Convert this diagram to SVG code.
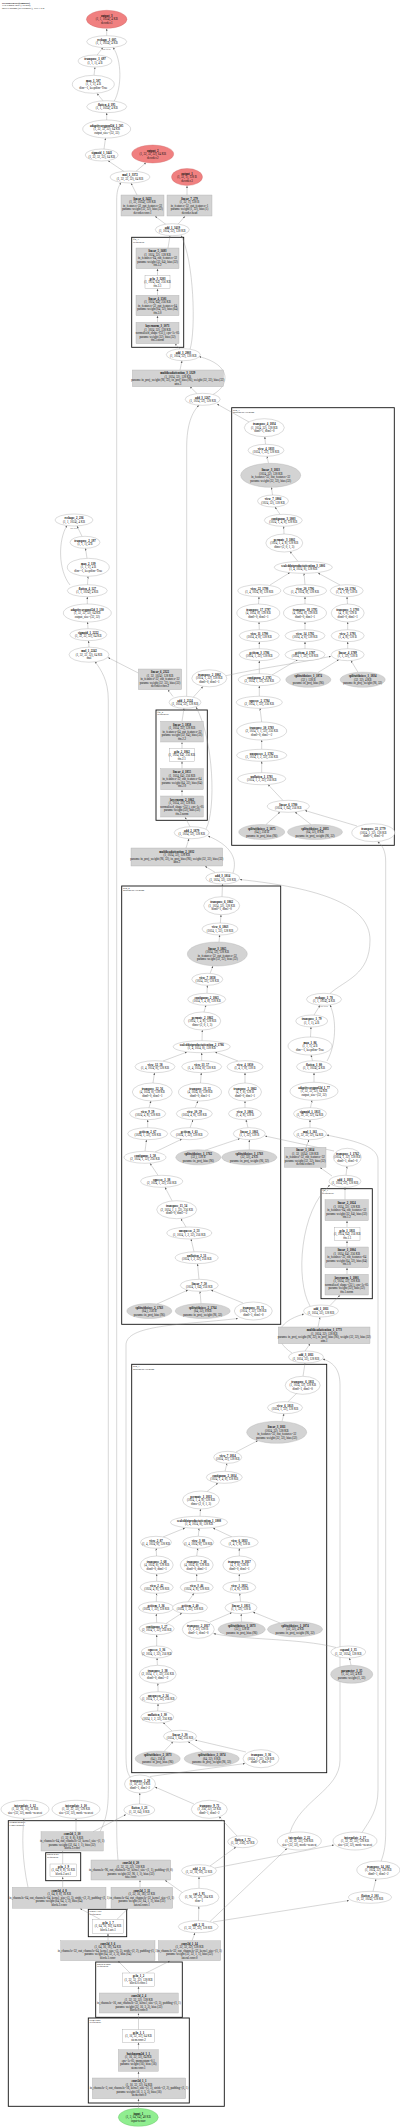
<svg xmlns="http://www.w3.org/2000/svg" width="400" height="2128" viewBox="0 0 400 2128">
<defs>
<marker id="a" viewBox="0 0 10 10" refX="10" refY="5" markerWidth="2.2" markerHeight="2.2" orient="auto" markerUnits="userSpaceOnUse"><path d="M0,1 L10,5 L0,9z" fill="#555"/></marker>
<style>
text{font-family:"Liberation Serif","Times New Roman",serif;font-size:3px;text-anchor:middle;fill:#111}
.b{font-weight:bold}
.l{text-anchor:start;font-size:2.7px}
.e{fill:#fff;stroke:#999;stroke-width:0.35}
.g{fill:#d3d3d3;stroke:#aaa;stroke-width:0.35}
.r{fill:#f08080;stroke:#c66;stroke-width:0.35}
.gr{fill:#90ee90;stroke:#6b6;stroke-width:0.35}
.c{fill:none;stroke:#111;stroke-width:0.9}
#edges path{fill:none;stroke:#8a8a8a;stroke-width:0.35;marker-end:url(#a)}
.s{font-size:2.3px;fill:#444}
</style>
</defs>
<rect width="400" height="2128" fill="#fff"/>
<g id="title"><text class="l b" x="2" y="3.5">HybridSegNet(compact)</text><text class="l" x="2" y="6.2">175 tensors total (3.2 MB)</text><text class="l" x="2" y="8.9">50979 params (all trainable), 199.1 KB</text></g>

<g id="clusters">
<rect class="c" x="131.7" y="237.3" width="52" height="110"/><text class="l" x="133" y="240">ffn_3</text><text class="l" x="133" y="242.7">Sequential</text>
<rect class="c" x="231.7" y="407.7" width="162.6" height="437.6"/><text class="l" x="233" y="410.5">attn_3</text><text class="l" x="233" y="413.2">MultiheadAttention</text>
<rect class="c" x="156" y="710" width="51.3" height="110.3"/><text class="l" x="157.3" y="712.7">ffn_2</text><text class="l" x="157.3" y="715.4">Sequential</text>
<rect class="c" x="121.7" y="886" width="159" height="438.3"/><text class="l" x="123" y="888.7">attn_2</text><text class="l" x="123" y="891.4">MultiheadAttention</text>
<rect class="c" x="321" y="1188.7" width="51.3" height="110"/><text class="l" x="322.3" y="1191.4">ffn_1</text><text class="l" x="322.3" y="1194.1">Sequential</text>
<rect class="c" x="131.7" y="1364.3" width="195" height="408.4"/><text class="l" x="133" y="1367">attn_1</text><text class="l" x="133" y="1369.7">MultiheadAttention</text>
<rect class="c" x="8.3" y="1820.7" width="216" height="285.6"/><text class="l" x="9.6" y="1823.4">stem&amp;encoder</text><text class="l" x="9.6" y="1826.1">ConvEncoder</text>
<rect class="c" x="45.7" y="1852.7" width="35" height="28"/><text class="l" x="47" y="1855.4">block.2.act</text><text class="l" x="47" y="1858.1">Sequential</text>
<rect class="c" x="88.3" y="1909.3" width="38.4" height="27.4"/><text class="l" x="89.6" y="1912">block.1.act</text><text class="l" x="89.6" y="1914.7">Sequential</text>
<rect class="c" x="95.7" y="1962" width="86.6" height="55.3"/><text class="l" x="97" y="1964.7">block.0.conv</text><text class="l" x="97" y="1967.4">Sequential</text>
<rect class="c" x="88.3" y="2018" width="101" height="85"/><text class="l" x="89.6" y="2020.7">stem.conv</text><text class="l" x="89.6" y="2023.4">Sequential</text>
</g>

<g id="edges">
<path d="M106.7,35.7 L106.7,28.5"/>
<path d="M97,55.2 L103,47.5"/>
<path d="M94,75.3 L95,67.2"/>
<path d="M103,100.8 L97,93.4"/>
<path d="M114,101.5 C122,88 122,60 113,47.4"/>
<path d="M106.7,120 L106.7,112.8"/>
<path d="M104,149 L105.5,138.2"/>
<path d="M124,171.5 L108,160.7"/>
<path d="M136,171.3 L146,162.8"/>
<path d="M187,195 L187,185.7"/>
<path d="M137,195 L131,183.2"/>
<path d="M166,224.5 L155,216.2"/>
<path d="M178,224.3 L185,216.2"/>
<path d="M168,248 L170,235.8"/>
<path d="M157.5,275.3 L157.5,268.8"/>
<path d="M157.5,295.3 L157.5,288.8"/>
<path d="M157.5,322.3 L157.5,315.8"/>
<path d="M180,349 L175,343.8"/>
<path d="M190,349.5 C196,330 194,260 181,235.5"/>
<path d="M180,370 L182,360.8"/>
<path d="M197,393.5 L190,386.8"/>
<path d="M213,394.5 C230,385 232,365 199,356.5"/>
<path d="M249,422 L217,404"/>
<path d="M265.5,444.3 L264.8,436.7"/>
<path d="M268.5,463.3 L267,456.3"/>
<path d="M272.5,495 L271.5,487.3"/>
<path d="M280,514.3 L275,507"/>
<path d="M284,534 L283.7,526.3"/>
<path d="M298,561.5 L290,551.5"/>
<path d="M270,585 L290,572.5"/>
<path d="M305,584.7 L304,573.3"/>
<path d="M340,585 L318,573"/>
<path d="M258.5,604 L259,596.7"/>
<path d="M305,604 L305,596.7"/>
<path d="M347.5,604 L347,596.7"/>
<path d="M259.3,629.7 L259,622"/>
<path d="M305,629.7 L305,622"/>
<path d="M347.7,629.7 L347.7,622"/>
<path d="M259.3,648.7 L259.3,641.7"/>
<path d="M305,648.7 L305,641.7"/>
<path d="M347.7,648.7 L347.7,641.7"/>
<path d="M259.3,673.7 L259.3,660.7"/>
<path d="M272,675 L298,659.5"/>
<path d="M318,672.5 L339,659.5"/>
<path d="M358,672.3 L351,660.6"/>
<path d="M226,675.7 C260,668 300,663 331,656.3"/>
<path d="M259.3,696.3 L259.3,685.7"/>
<path d="M261.7,722 L260,708.3"/>
<path d="M261.7,749.3 L261.7,740"/>
<path d="M261.7,772.7 L261.7,761.3"/>
<path d="M283,800.5 L268,784.5"/>
<path d="M266,824.5 L280,812"/>
<path d="M311,824.5 L295,812"/>
<path d="M357,826 L305,810.5"/>
<path d="M381,1861.5 C384.5,1852 385.7,1845 385.7,1830 L385.7,862 C385.7,850 382,845 377.5,841.6"/>
<path d="M82,536.3 L77,526"/>
<path d="M87,558.3 L85.5,548.3"/>
<path d="M87.5,584.7 L88,576.3"/>
<path d="M70,585 C58,570 58,540 67,525.5"/>
<path d="M87.3,604 L87.3,596.7"/>
<path d="M88,628.7 L87.5,622"/>
<path d="M89,647.2 L88.5,640.7"/>
<path d="M138.3,673 L108,657.5"/>
<path d="M100,1831.7 C106,1820 108.3,1810 108.3,1790 L108.3,700 C108.3,680 101,670 95,661.5"/>
<path d="M173,696.5 L168,689.8"/>
<path d="M193,697.5 L203,686.5"/>
<path d="M186.7,696.3 L186.7,447 C186.7,425 192,412 199,405.3"/>
<path d="M182,721.3 L184,708.3"/>
<path d="M182,748.7 L182,742.2"/>
<path d="M182,768.7 L182,761.4"/>
<path d="M182,796 L182,789.8"/>
<path d="M190,826.7 L185,817.2"/>
<path d="M206,829 C216,810 214,740 196,707"/>
<path d="M186,848 L189,838.7"/>
<path d="M215,872.3 L205,866.2"/>
<path d="M233,873 C238,858 230,845 208,836"/>
<path d="M222,896.7 L222.5,884"/>
<path d="M330,993.5 C345,980 370,975 370,940 C370,905 320,888 239.7,879.5"/>
<path d="M220.3,923 L221,914.7"/>
<path d="M219,942 L219.7,935"/>
<path d="M210,973.5 L213,966"/>
<path d="M207,993.3 L207.3,985.3"/>
<path d="M204,1012 L206,1005.3"/>
<path d="M202,1040.7 L202.3,1030"/>
<path d="M163,1061 L187,1052"/>
<path d="M201.7,1060.7 L201.7,1052.7"/>
<path d="M238,1061 L215,1052"/>
<path d="M153,1083 L154.5,1072.7"/>
<path d="M200.5,1083 L201.3,1072.7"/>
<path d="M245,1083 L245,1072.7"/>
<path d="M149,1107.7 L151,1101"/>
<path d="M195,1107.7 L198,1101"/>
<path d="M245,1107.7 L245,1101"/>
<path d="M147.7,1127.7 L147.7,1119.7"/>
<path d="M190,1127.7 L193,1119.7"/>
<path d="M248,1127.7 L246,1119.7"/>
<path d="M145,1151.3 L146.5,1139.7"/>
<path d="M155,1152 L182,1139"/>
<path d="M205,1150.3 L240,1138.5"/>
<path d="M249.3,1149.8 L249.3,1139.7"/>
<path d="M334,1151 L265,1136"/>
<path d="M158,1175.3 L150,1163.3"/>
<path d="M172,1200.7 L165,1187.3"/>
<path d="M186,1227 L181,1218.7"/>
<path d="M194,1251.7 L191,1239"/>
<path d="M199,1279.3 L197.5,1263.7"/>
<path d="M157,1304 L188,1290"/>
<path d="M201,1303.5 L200,1291.3"/>
<path d="M243,1303 L211,1290"/>
<path d="M131,1778 C126,1772 126,1765 126,1750 L126,1345 C126,1325 180,1325 238,1318.5"/>
<path d="M310,1127.7 L310,1119.7"/>
<path d="M310.5,1107.7 L312,1100.3"/>
<path d="M314,1082.3 L314,1072.7"/>
<path d="M312.5,1060.7 L311,1055"/>
<path d="M310.5,1037 L311,1027"/>
<path d="M314,1015 L320,1005.3"/>
<path d="M327,1061 C336,1045 337,1020 330,1005"/>
<path d="M306,1147.3 L309,1139.7"/>
<path d="M362,1832.5 C370,1820 378,1810 378,1790 L378,1160 C378,1145 350,1140 326.6,1135"/>
<path d="M332,1176 L320,1167.5"/>
<path d="M346,1175.3 L347,1166.3"/>
<path d="M345,1199.7 L345,1187.3"/>
<path d="M347,1227.3 L347,1220.8"/>
<path d="M347,1247 L347,1240.8"/>
<path d="M347,1274.3 L347,1267.8"/>
<path d="M330,1305.5 L340,1295.2"/>
<path d="M310,1306 C295,1280 300,1210 330,1185"/>
<path d="M318,1327 L320,1317.2"/>
<path d="M305,1351 L310,1343.8"/>
<path d="M292,1353 C272,1340 275,1322 304,1314"/>
<path d="M303,1376.3 L305,1363.2"/>
<path d="M288,1401.7 L298,1392"/>
<path d="M282,1421.3 L284,1413.7"/>
<path d="M236,1452 L258,1440.5"/>
<path d="M225,1471.3 L227,1463.3"/>
<path d="M207,1491.5 L218,1483"/>
<path d="M200,1516.3 L200.5,1509"/>
<path d="M163,1537 L185,1528"/>
<path d="M198.3,1536.3 L199,1528.3"/>
<path d="M232,1537 L213,1528"/>
<path d="M156.5,1556 L156.2,1548.3"/>
<path d="M196.7,1556 L197.8,1548.3"/>
<path d="M239.3,1556 L239.3,1548.3"/>
<path d="M156.7,1581.3 L156.7,1574"/>
<path d="M196.7,1581.3 L196.7,1574"/>
<path d="M239.3,1581.3 L239.3,1574"/>
<path d="M156.3,1601.7 L156.6,1593.3"/>
<path d="M188,1601.7 L194,1593.3"/>
<path d="M240.5,1601.7 L239.8,1593.3"/>
<path d="M156.7,1622.7 L156.3,1613.7"/>
<path d="M166,1623.5 L182,1613"/>
<path d="M210,1622 L232,1612.5"/>
<path d="M241.5,1621.8 L241.2,1613.7"/>
<path d="M280,1623 L253,1612"/>
<path d="M156.7,1646 L156.7,1634.7"/>
<path d="M157.4,1665.3 L157,1658"/>
<path d="M158.1,1691.7 L157.9,1683.3"/>
<path d="M157.7,1711 L158.1,1703.7"/>
<path d="M172,1731 L163,1722.5"/>
<path d="M164,1751.5 L173,1741.8"/>
<path d="M203,1751.3 L188,1741.7"/>
<path d="M246,1752 L195,1740"/>
<path d="M351,1665.3 L349.5,1658"/>
<path d="M336,1647.5 C300,1638 240,1640 213.5,1633.5"/>
<path d="M290,1832.5 C300,1800 340,1790 340,1760 L340,1385 C340,1368 332,1362 322.8,1359"/>
<path d="M194,1804 L155,1787"/>
<path d="M139.5,1804 L139.8,1793"/>
<path d="M150,1776.5 L245,1763.5"/>
<path d="M93,1831.7 L126,1814.5"/>
<path d="M76,1831.7 L76,1818.5"/>
<path d="M28,1887.3 C22,1860 22,1835 24,1818.5"/>
<path d="M118,1860 C116.7,1845 116.7,1835 116.7,1815 L116.7,200 C116.7,192 118,187 121,182.6"/>
<path d="M62.7,1887.3 L62.7,1876.9"/>
<path d="M62.7,1864 L62.7,1851.2"/>
<path d="M140,1887.3 L140,1880.2"/>
<path d="M100,1919.3 L80,1908.5"/>
<path d="M117,1919.3 L128,1908.5"/>
<path d="M108,1940.7 L108,1933.5"/>
<path d="M130,1973 L118,1960.9"/>
<path d="M146,1973 L170,1960.9"/>
<path d="M138.5,1993 L138.5,1986.5"/>
<path d="M138.5,2029.7 L138.5,2013.2"/>
<path d="M138.5,2049.7 L138.5,2042.5"/>
<path d="M138.5,2078 L138.5,2071.5"/>
<path d="M138.5,2108.3 L138.5,2098.9"/>
<path d="M192,1940.7 L195,1932.8"/>
<path d="M198.5,1920.7 L198.8,1906.4"/>
<path d="M213,1922 L349,1900.5"/>
<path d="M210,1921.5 L287,1848.5"/>
<path d="M199,1888.3 L199,1876.8"/>
<path d="M183,1893 L165,1880.2"/>
<path d="M210,1866 L236,1847"/>
<path d="M215,1868 L334,1845"/>
<path d="M237,1836 L219,1816.5"/>
<path d="M373,1891.3 L376,1879.1"/>
</g>

<g id="labels"><text class="s" x="106.7" y="50">cat  view</text><text class="s" x="74" y="528.5">cat  view</text><text class="s" x="324" y="1007">cat  view</text></g>

<g id="output_3"><ellipse class="r" cx="106.7" cy="19.3" rx="20.3" ry="9"/><text x="106.7" y="16.8"><tspan class="b">output_3</tspan><tspan x="106.7" dy="3.5">(1, 1, 1024), 4 KB</tspan><tspan x="106.7" dy="3.5">decoder.1</tspan></text></g>
<g id="reshape_1_605"><ellipse class="e" cx="106.7" cy="41.7" rx="20" ry="6"/><text x="106.7" y="40.95"><tspan class="b">reshape_1_605</tspan><tspan x="106.7" dy="3.5">(1, 1, 1024), 4 KB</tspan></text></g>
<g id="transpose_1_697"><ellipse class="e" cx="95" cy="61" rx="17" ry="6"/><text x="95" y="60.25"><tspan class="b">transpose_1_697</tspan><tspan x="95" dy="3.5">(1, 1, 1), 4 B</tspan></text></g>
<g id="max_1_507"><ellipse class="e" cx="93.3" cy="84.3" rx="21" ry="9"/><text x="93.3" y="81.8"><tspan class="b">max_1_507</tspan><tspan x="93.3" dy="3.5">(1, 1, 1), 4 B</tspan><tspan x="93.3" dy="3.5">dim=-1, keepdim=True</tspan></text></g>
<g id="flatten_4_195"><ellipse class="e" cx="106.7" cy="106.7" rx="20" ry="6"/><text x="106.7" y="105.95"><tspan class="b">flatten_4_195</tspan><tspan x="106.7" dy="3.5">(1, 1, 1024), 4 KB</tspan></text></g>
<g id="adaptiveavgpool2d_1_505"><ellipse class="e" cx="106.7" cy="129" rx="24" ry="9"/><text x="106.7" y="126.5"><tspan class="b">adaptiveavgpool2d_1_505</tspan><tspan x="106.7" dy="3.5">(1, 32, 32, 32), 64 KB</tspan><tspan x="106.7" dy="3.5">output_size=(32, 32)</tspan></text></g>
<g id="sigmoid_1_3441"><ellipse class="e" cx="101.7" cy="155" rx="16.5" ry="6"/><text x="101.7" y="154.25"><tspan class="b">sigmoid_1_3441</tspan><tspan x="101.7" dy="3.5">(1, 32, 32, 32), 64 KB</tspan></text></g>
<g id="output_2"><ellipse class="r" cx="152.7" cy="154" rx="21" ry="9"/><text x="152.7" y="151.5"><tspan class="b">output_2</tspan><tspan x="152.7" dy="3.5">(1, 32, 32, 32), 64 KB</tspan><tspan x="152.7" dy="3.5">decoder.2</tspan></text></g>
<g id="mul_1_3372"><ellipse class="e" cx="130" cy="177" rx="20" ry="6"/><text x="130" y="176.25"><tspan class="b">mul_1_3372</tspan><tspan x="130" dy="3.5">(1, 32, 32, 32), 64 KB</tspan></text></g>
<g id="output_1"><ellipse class="r" cx="187" cy="177" rx="15.5" ry="8.5"/><text x="187" y="174.5"><tspan class="b">output_1</tspan><tspan x="187" dy="3.5">(1, 32, 1), 128 B</tspan><tspan x="187" dy="3.5">decoder.3</tspan></text></g>
<g id="linear_6_3423"><rect class="g" x="121" y="195" width="43" height="21"/><text x="142.5" y="199.5"><tspan class="b">linear_6_3423</tspan><tspan x="142.5" dy="3.5">(1, 32, 1024), 128 KB</tspan><tspan x="142.5" dy="3.5">in_features=32, out_features=32</tspan><tspan x="142.5" dy="3.5">params: weight (32, 32), bias (32)</tspan><tspan x="142.5" dy="3.5">decoder.conv.1</tspan></text></g>
<g id="linear_7_279"><rect class="g" x="167" y="195" width="45" height="21"/><text x="189.5" y="199.5"><tspan class="b">linear_7_279</tspan><tspan x="189.5" dy="3.5">(1, 32, 1), 128 B</tspan><tspan x="189.5" dy="3.5">in_features=32, out_features=1</tspan><tspan x="189.5" dy="3.5">params: weight (1, 32), bias (1)</tspan><tspan x="189.5" dy="3.5">decoder.head</tspan></text></g>
<g id="add_1_3419"><ellipse class="e" cx="172.3" cy="229.7" rx="17" ry="6"/><text x="172.3" y="228.95"><tspan class="b">add_1_3419</tspan><tspan x="172.3" dy="3.5">(1, 1024, 32), 128 KB</tspan></text></g>
<g id="linear_5_1683"><rect class="g" x="136" y="248" width="43" height="20.7"/><text x="157.5" y="252.35"><tspan class="b">linear_5_1683</tspan><tspan x="157.5" dy="3.5">(1, 1024, 32), 128 KB</tspan><tspan x="157.5" dy="3.5">in_features=64, out_features=32</tspan><tspan x="157.5" dy="3.5">params: weight (32, 64), bias (32)</tspan><tspan x="157.5" dy="3.5">ffn.3.2</tspan></text></g>
<g id="gelu_3_3203"><rect class="e" x="145" y="275.3" width="25" height="13.4"/><text x="157.5" y="279.5"><tspan class="b">gelu_3_3203</tspan><tspan x="157.5" dy="3.5">(1, 1024, 64), 256 KB</tspan><tspan x="157.5" dy="3.5">ffn.3.1</tspan></text></g>
<g id="linear_4_1501"><rect class="g" x="136" y="295.3" width="43" height="20.4"/><text x="157.5" y="299.5"><tspan class="b">linear_4_1501</tspan><tspan x="157.5" dy="3.5">(1, 1024, 64), 256 KB</tspan><tspan x="157.5" dy="3.5">in_features=32, out_features=64</tspan><tspan x="157.5" dy="3.5">params: weight (64, 32), bias (64)</tspan><tspan x="157.5" dy="3.5">ffn.3.0</tspan></text></g>
<g id="layernorm_3_1071"><rect class="g" x="136" y="322.3" width="43" height="21.4"/><text x="157.5" y="327"><tspan class="b">layernorm_3_1071</tspan><tspan x="157.5" dy="3.5">(1, 1024, 32), 128 KB</tspan><tspan x="157.5" dy="3.5">normalized_shape=(32,), eps=1e-05</tspan><tspan x="157.5" dy="3.5">params: weight (32), bias (32)</tspan><tspan x="157.5" dy="3.5">ffn.3.norm</tspan></text></g>
<g id="add_3_2803"><ellipse class="e" cx="183.3" cy="354.7" rx="17" ry="6"/><text x="183.3" y="353.95"><tspan class="b">add_3_2803</tspan><tspan x="183.3" dy="3.5">(1, 1024, 32), 128 KB</tspan></text></g>
<g id="multiheadattention_3_1329"><rect class="g" x="132.3" y="370" width="91" height="16.7"/><text x="177.8" y="374.1"><tspan class="b">multiheadattention_3_1329</tspan><tspan x="177.8" dy="3.5">(1, 1024, 32), 128 KB</tspan><tspan x="177.8" dy="3.5">params: in_proj_weight (96, 32), in_proj_bias (96), weight (32, 32), bias (32)</tspan><tspan x="177.8" dy="3.5">attn.3</tspan></text></g>
<g id="add_3_1267"><ellipse class="e" cx="202.7" cy="399.3" rx="17.5" ry="6"/><text x="202.7" y="398.55"><tspan class="b">add_3_1267</tspan><tspan x="202.7" dy="3.5">(1, 1024, 32), 128 KB</tspan></text></g>

<g id="transpose_4_1834"><ellipse class="e" cx="264.3" cy="427.7" rx="20" ry="9"/><text x="264.3" y="425.2"><tspan class="b">transpose_4_1834</tspan><tspan x="264.3" dy="3.5">(1, 1024, 32), 128 KB</tspan><tspan x="264.3" dy="3.5">dim0=1, dim1=0</tspan></text></g>
<g id="view_4_1833"><ellipse class="e" cx="266" cy="450.3" rx="18" ry="6"/><text x="266" y="449.55"><tspan class="b">view_4_1833</tspan><tspan x="266" dy="3.5">(1024, 1, 32), 128 KB</tspan></text></g>
<g id="linear_3_1813"><ellipse class="g" cx="270.7" cy="475.3" rx="30" ry="12"/><text x="270.7" y="471.05"><tspan class="b">linear_3_1813</tspan><tspan x="270.7" dy="3.5">(1024, 32), 128 KB</tspan><tspan x="270.7" dy="3.5">in_features=32, out_features=32</tspan><tspan x="270.7" dy="3.5">params: weight (32, 32), bias (32)</tspan></text></g>
<g id="view_7_1804"><ellipse class="e" cx="273" cy="501" rx="15.5" ry="6"/><text x="273" y="500.25"><tspan class="b">view_7_1804</tspan><tspan x="273" dy="3.5">(1024, 32), 128 KB</tspan></text></g>
<g id="contiguous_3_1803"><ellipse class="e" cx="283.3" cy="520.3" rx="19" ry="6"/><text x="283.3" y="519.55"><tspan class="b">contiguous_3_1803</tspan><tspan x="283.3" dy="3.5">(1024, 1, 4, 8), 128 KB</tspan></text></g>
<g id="permute_3_1802"><ellipse class="e" cx="284.3" cy="543" rx="18.5" ry="9"/><text x="284.3" y="540.5"><tspan class="b">permute_3_1802</tspan><tspan x="284.3" dy="3.5">(1024, 1, 4, 8), 128 KB</tspan><tspan x="284.3" dy="3.5">dims=(2, 0, 1, 3)</tspan></text></g>
<g id="sdpa_3_1801"><ellipse class="e" cx="303.3" cy="567.3" rx="29" ry="6"/><text x="303.3" y="566.55"><tspan class="b">scaleddotproductattention_3_1801</tspan><tspan x="303.3" dy="3.5">(1, 4, 1024, 8), 128 KB</tspan></text></g>
<g id="view_22_1798"><ellipse class="e" cx="259.3" cy="590.7" rx="21.5" ry="6"/><text x="259.3" y="589.95"><tspan class="b">view_22_1798</tspan><tspan x="259.3" dy="3.5">(1, 4, 1024, 8), 128 KB</tspan></text></g>
<g id="view_20_1796"><ellipse class="e" cx="305" cy="590.7" rx="21.5" ry="6"/><text x="305" y="589.95"><tspan class="b">view_20_1796</tspan><tspan x="305" dy="3.5">(1, 4, 1024, 8), 128 KB</tspan></text></g>
<g id="view_24_1794"><ellipse class="e" cx="346.7" cy="590.7" rx="16.5" ry="6"/><text x="346.7" y="589.95"><tspan class="b">view_24_1794</tspan><tspan x="346.7" dy="3.5">(1, 4, 1, 8), 128 B</tspan></text></g>
<g id="transpose_17_1797"><ellipse class="e" cx="258.3" cy="613" rx="21.5" ry="9"/><text x="258.3" y="610.5"><tspan class="b">transpose_17_1797</tspan><tspan x="258.3" dy="3.5">(4, 1024, 8), 128 KB</tspan><tspan x="258.3" dy="3.5">dim0=0, dim1=1</tspan></text></g>
<g id="transpose_18_1795"><ellipse class="e" cx="305" cy="613" rx="21.5" ry="9"/><text x="305" y="610.5"><tspan class="b">transpose_18_1795</tspan><tspan x="305" dy="3.5">(4, 1024, 8), 128 KB</tspan><tspan x="305" dy="3.5">dim0=0, dim1=1</tspan></text></g>
<g id="transpose_5_1793"><ellipse class="e" cx="347.7" cy="613" rx="16.5" ry="9"/><text x="347.7" y="610.5"><tspan class="b">transpose_5_1793</tspan><tspan x="347.7" dy="3.5">(4, 1, 8), 128 B</tspan><tspan x="347.7" dy="3.5">dim0=0, dim1=1</tspan></text></g>
<g id="view_11_1790"><ellipse class="e" cx="259.3" cy="635.7" rx="20" ry="6"/><text x="259.3" y="634.95"><tspan class="b">view_11_1790</tspan><tspan x="259.3" dy="3.5">(1024, 4, 8), 128 KB</tspan></text></g>
<g id="view_14_1792"><ellipse class="e" cx="305" cy="635.7" rx="20" ry="6"/><text x="305" y="634.95"><tspan class="b">view_14_1792</tspan><tspan x="305" dy="3.5">(1024, 4, 8), 128 KB</tspan></text></g>
<g id="view_5_1791"><ellipse class="e" cx="347.7" cy="635.7" rx="16.5" ry="6"/><text x="347.7" y="634.95"><tspan class="b">view_5_1791</tspan><tspan x="347.7" dy="3.5">(1, 4, 8), 128 B</tspan></text></g>
<g id="getitem_3_1786"><ellipse class="e" cx="259.3" cy="654.7" rx="20" ry="6"/><text x="259.3" y="653.95"><tspan class="b">getitem_3_1786</tspan><tspan x="259.3" dy="3.5">(1024, 1, 32), 128 KB</tspan></text></g>
<g id="getitem_4_1787"><ellipse class="e" cx="305" cy="654.7" rx="20" ry="6"/><text x="305" y="653.95"><tspan class="b">getitem_4_1787</tspan><tspan x="305" dy="3.5">(1024, 1, 32), 128 KB</tspan></text></g>
<g id="linear_4_1789"><ellipse class="e" cx="347.7" cy="654.7" rx="16.5" ry="6"/><text x="347.7" y="653.95"><tspan class="b">linear_4_1789</tspan><tspan x="347.7" dy="3.5">(1, 1, 32), 128 B</tspan></text></g>
<g id="contiguous_2_1785"><ellipse class="e" cx="259.3" cy="679.7" rx="21" ry="6"/><text x="259.3" y="678.95"><tspan class="b">contiguous_2_1785</tspan><tspan x="259.3" dy="3.5">(2, 1024, 1, 32), 256 KB</tspan></text></g>
<g id="splitwithsizes_1_1874"><ellipse class="g" cx="308.3" cy="679.7" rx="22.5" ry="7.5"/><text x="308.3" y="677.2"><tspan class="b">splitwithsizes_1_1874</tspan><tspan x="308.3" dy="3.5">(32,), 128 B</tspan><tspan x="308.3" dy="3.5">params: in_proj_bias (96)</tspan></text></g>
<g id="splitwithsizes_1_1834"><ellipse class="g" cx="362.7" cy="679.7" rx="22.5" ry="7.5"/><text x="362.7" y="677.2"><tspan class="b">splitwithsizes_1_1834</tspan><tspan x="362.7" dy="3.5">(32, 32), 4 KB</tspan><tspan x="362.7" dy="3.5">params: in_proj_weight (96, 32)</tspan></text></g>
<g id="squeeze_2_1784"><ellipse class="e" cx="259.3" cy="702.3" rx="23" ry="6"/><text x="259.3" y="701.55"><tspan class="b">squeeze_2_1784</tspan><tspan x="259.3" dy="3.5">(2, 1024, 1, 32), 256 KB</tspan></text></g>
<g id="transpose_10_1783"><ellipse class="e" cx="261.7" cy="731" rx="25" ry="9"/><text x="261.7" y="728.5"><tspan class="b">transpose_10_1783</tspan><tspan x="261.7" dy="3.5">(2, 1024, 1, 1, 32), 256 KB</tspan><tspan x="261.7" dy="3.5">dim0=0, dim1=-2</tspan></text></g>
<g id="unsqueeze_1_1782"><ellipse class="e" cx="261.7" cy="755.3" rx="25" ry="6"/><text x="261.7" y="754.55"><tspan class="b">unsqueeze_1_1782</tspan><tspan x="261.7" dy="3.5">(1, 1024, 1, 2, 32), 256 KB</tspan></text></g>
<g id="unflatten_1_1781"><ellipse class="e" cx="261.7" cy="778.7" rx="24" ry="6"/><text x="261.7" y="777.95"><tspan class="b">unflatten_1_1781</tspan><tspan x="261.7" dy="3.5">(1024, 1, 2, 32), 256 KB</tspan></text></g>
<g id="linear_6_1780"><ellipse class="e" cx="288.3" cy="806.3" rx="21" ry="6"/><text x="288.3" y="805.55"><tspan class="b">linear_6_1780</tspan><tspan x="288.3" dy="3.5">(1024, 1, 64), 256 KB</tspan></text></g>
<g id="splitwithsizes_2_1875"><ellipse class="g" cx="261.7" cy="832" rx="23" ry="7.5"/><text x="261.7" y="829.5"><tspan class="b">splitwithsizes_2_1875</tspan><tspan x="261.7" dy="3.5">(64,), 256 B</tspan><tspan x="261.7" dy="3.5">params: in_proj_bias (96)</tspan></text></g>
<g id="splitwithsizes_2_1835"><ellipse class="g" cx="315" cy="832" rx="27.5" ry="7.5"/><text x="315" y="829.5"><tspan class="b">splitwithsizes_2_1835</tspan><tspan x="315" dy="3.5">(64, 32), 8 KB</tspan><tspan x="315" dy="3.5">params: in_proj_weight (96, 32)</tspan></text></g>
<g id="transpose_22_1779"><ellipse class="e" cx="373.3" cy="832.7" rx="21.5" ry="9"/><text x="373.3" y="830.2"><tspan class="b">transpose_22_1779</tspan><tspan x="373.3" dy="3.5">(1024, 1, 32), 128 KB</tspan><tspan x="373.3" dy="3.5">dim0=1, dim1=0</tspan></text></g>

<g id="reshape_2_236"><ellipse class="e" cx="74" cy="520" rx="19" ry="6"/><text x="74" y="519.25"><tspan class="b">reshape_2_236</tspan><tspan x="74" dy="3.5">(1, 1, 1024), 4 KB</tspan></text></g>
<g id="transpose_2_197"><ellipse class="e" cx="85" cy="542.3" rx="15" ry="6"/><text x="85" y="541.55"><tspan class="b">transpose_2_197</tspan><tspan x="85" dy="3.5">(1, 1, 1), 4 B</tspan></text></g>
<g id="max_2_139"><ellipse class="e" cx="88.3" cy="567.3" rx="21" ry="9"/><text x="88.3" y="564.8"><tspan class="b">max_2_139</tspan><tspan x="88.3" dy="3.5">(1, 1, 1), 4 B</tspan><tspan x="88.3" dy="3.5">dim=-1, keepdim=True</tspan></text></g>
<g id="flatten_4_127"><ellipse class="e" cx="87.3" cy="590.7" rx="20" ry="6"/><text x="87.3" y="589.95"><tspan class="b">flatten_4_127</tspan><tspan x="87.3" dy="3.5">(1, 1, 1024), 4 KB</tspan></text></g>
<g id="adaptiveavgpool2d_3_130"><ellipse class="e" cx="87.3" cy="613" rx="24" ry="9"/><text x="87.3" y="610.5"><tspan class="b">adaptiveavgpool2d_3_130</tspan><tspan x="87.3" dy="3.5">(1, 32, 32, 32), 64 KB</tspan><tspan x="87.3" dy="3.5">output_size=(32, 32)</tspan></text></g>
<g id="sigmoid_1_2222"><ellipse class="e" cx="88.3" cy="634.7" rx="18.5" ry="6"/><text x="88.3" y="633.95"><tspan class="b">sigmoid_1_2222</tspan><tspan x="88.3" dy="3.5">(1, 32, 32, 32), 64 KB</tspan></text></g>
<g id="mul_1_2242"><ellipse class="e" cx="89" cy="654.7" rx="20" ry="7.5"/><text x="89" y="652.2"><tspan class="b">mul_1_2242</tspan><tspan x="89" dy="3.5">(1, 32, 32, 32), 64 KB</tspan><tspan x="89" dy="3.5">mul</tspan></text></g>
<g id="linear_6_2322"><rect class="g" x="138.3" y="669" width="43.4" height="20.7"/><text x="160" y="673.35"><tspan class="b">linear_6_2322</tspan><tspan x="160" dy="3.5">(1, 32, 1024), 128 KB</tspan><tspan x="160" dy="3.5">in_features=32, out_features=32</tspan><tspan x="160" dy="3.5">params: weight (32, 32), bias (32)</tspan><tspan x="160" dy="3.5">decoder.conv.2</tspan></text></g>
<g id="transpose_2_1802"><ellipse class="e" cx="209.3" cy="678.3" rx="17.5" ry="8.5"/><text x="209.3" y="675.8"><tspan class="b">transpose_2_1802</tspan><tspan x="209.3" dy="3.5">(1024, 1, 32), 128 KB</tspan><tspan x="209.3" dy="3.5">dim0=0, dim1=1</tspan></text></g>
<g id="add_1_2124"><ellipse class="e" cx="185" cy="702.3" rx="16" ry="6"/><text x="185" y="701.55"><tspan class="b">add_1_2124</tspan><tspan x="185" dy="3.5">(1, 1024, 32), 128 KB</tspan></text></g>
<g id="linear_5_1858"><rect class="g" x="160.7" y="721.3" width="42.6" height="20.7"/><text x="182" y="725.65"><tspan class="b">linear_5_1858</tspan><tspan x="182" dy="3.5">(1, 1024, 32), 128 KB</tspan><tspan x="182" dy="3.5">in_features=64, out_features=32</tspan><tspan x="182" dy="3.5">params: weight (32, 64), bias (32)</tspan><tspan x="182" dy="3.5">ffn.2.2</tspan></text></g>
<g id="gelu_2_1862"><rect class="e" x="169.3" y="748.7" width="25" height="12.6"/><text x="181.8" y="752.5"><tspan class="b">gelu_2_1862</tspan><tspan x="181.8" dy="3.5">(1, 1024, 64), 256 KB</tspan><tspan x="181.8" dy="3.5">ffn.2.1</tspan></text></g>
<g id="linear_4_1855"><rect class="g" x="160.7" y="768.7" width="42.6" height="21"/><text x="182" y="773.2"><tspan class="b">linear_4_1855</tspan><tspan x="182" dy="3.5">(1, 1024, 64), 256 KB</tspan><tspan x="182" dy="3.5">in_features=32, out_features=64</tspan><tspan x="182" dy="3.5">params: weight (64, 32), bias (64)</tspan><tspan x="182" dy="3.5">ffn.2.0</tspan></text></g>
<g id="layernorm_2_1062"><rect class="g" x="160.7" y="796" width="42.6" height="21"/><text x="182" y="800.5"><tspan class="b">layernorm_2_1062</tspan><tspan x="182" dy="3.5">(1, 1024, 32), 128 KB</tspan><tspan x="182" dy="3.5">normalized_shape=(32,), eps=1e-05</tspan><tspan x="182" dy="3.5">params: weight (32), bias (32)</tspan><tspan x="182" dy="3.5">ffn.2.norm</tspan></text></g>
<g id="add_2_1879"><ellipse class="e" cx="191.7" cy="832.7" rx="17.5" ry="6"/><text x="191.7" y="831.95"><tspan class="b">add_2_1879</tspan><tspan x="191.7" dy="3.5">(1, 1024, 32), 128 KB</tspan></text></g>
<g id="multiheadattention_2_1032"><rect class="g" x="131" y="848" width="91.7" height="18"/><text x="176.8" y="852.75"><tspan class="b">multiheadattention_2_1032</tspan><tspan x="176.8" dy="3.5">(1, 1024, 32), 128 KB</tspan><tspan x="176.8" dy="3.5">params: in_proj_weight (96, 32), in_proj_bias (96), weight (32, 32), bias (32)</tspan><tspan x="176.8" dy="3.5">attn.2</tspan></text></g>
<g id="add_3_1814"><ellipse class="e" cx="222.7" cy="878" rx="17" ry="6"/><text x="222.7" y="877.25"><tspan class="b">add_3_1814</tspan><tspan x="222.7" dy="3.5">(1, 1024, 32), 128 KB</tspan></text></g>

<g id="transpose_6_1862"><ellipse class="e" cx="221.7" cy="905.7" rx="18" ry="9"/><text x="221.7" y="903.2"><tspan class="b">transpose_6_1862</tspan><tspan x="221.7" dy="3.5">(1, 1024, 32), 128 KB</tspan><tspan x="221.7" dy="3.5">dim0=1, dim1=0</tspan></text></g>
<g id="view_6_1863"><ellipse class="e" cx="220" cy="929" rx="18" ry="6"/><text x="220" y="928.25"><tspan class="b">view_6_1863</tspan><tspan x="220" dy="3.5">(1024, 1, 32), 128 KB</tspan></text></g>
<g id="linear_3_1865"><ellipse class="g" cx="217.3" cy="954" rx="30" ry="12"/><text x="217.3" y="949.75"><tspan class="b">linear_3_1865</tspan><tspan x="217.3" dy="3.5">(1024, 32), 128 KB</tspan><tspan x="217.3" dy="3.5">in_features=32, out_features=32</tspan><tspan x="217.3" dy="3.5">params: weight (32, 32), bias (32)</tspan></text></g>
<g id="view_7_1858"><ellipse class="e" cx="207.3" cy="979.3" rx="15.5" ry="6"/><text x="207.3" y="978.55"><tspan class="b">view_7_1858</tspan><tspan x="207.3" dy="3.5">(1024, 32), 128 KB</tspan></text></g>
<g id="contiguous_2_1865"><ellipse class="e" cx="206.7" cy="999.3" rx="19" ry="6"/><text x="206.7" y="998.55"><tspan class="b">contiguous_2_1865</tspan><tspan x="206.7" dy="3.5">(1024, 1, 4, 8), 128 KB</tspan></text></g>
<g id="permute_2_1862"><ellipse class="e" cx="202.3" cy="1021" rx="18.5" ry="9"/><text x="202.3" y="1018.5"><tspan class="b">permute_2_1862</tspan><tspan x="202.3" dy="3.5">(1024, 1, 4, 8), 128 KB</tspan><tspan x="202.3" dy="3.5">dims=(2, 0, 1, 3)</tspan></text></g>
<g id="sdpa_2_1786"><ellipse class="e" cx="201.7" cy="1046.7" rx="28.5" ry="6"/><text x="201.7" y="1045.95"><tspan class="b">scaleddotproductattention_2_1786</tspan><tspan x="201.7" dy="3.5">(1, 4, 1024, 8), 128 KB</tspan></text></g>
<g id="view_12_58"><ellipse class="e" cx="155" cy="1066.7" rx="20" ry="6"/><text x="155" y="1065.95"><tspan class="b">view_12_58</tspan><tspan x="155" dy="3.5">(1, 4, 1024, 8), 128 KB</tspan></text></g>
<g id="view_13_57"><ellipse class="e" cx="201.7" cy="1066.7" rx="20" ry="6"/><text x="201.7" y="1065.95"><tspan class="b">view_13_57</tspan><tspan x="201.7" dy="3.5">(1, 4, 1024, 8), 128 KB</tspan></text></g>
<g id="view_4_1850"><ellipse class="e" cx="245" cy="1066.7" rx="18" ry="6"/><text x="245" y="1065.95"><tspan class="b">view_4_1850</tspan><tspan x="245" dy="3.5">(1, 4, 1, 8), 128 B</tspan></text></g>
<g id="transpose_12_56"><ellipse class="e" cx="152.3" cy="1092" rx="20" ry="9"/><text x="152.3" y="1089.5"><tspan class="b">transpose_12_56</tspan><tspan x="152.3" dy="3.5">(4, 1024, 8), 128 KB</tspan><tspan x="152.3" dy="3.5">dim0=0, dim1=1</tspan></text></g>
<g id="transpose_13_55"><ellipse class="e" cx="200" cy="1092" rx="21.5" ry="9"/><text x="200" y="1089.5"><tspan class="b">transpose_13_55</tspan><tspan x="200" dy="3.5">(4, 1024, 8), 128 KB</tspan><tspan x="200" dy="3.5">dim0=0, dim1=1</tspan></text></g>
<g id="transpose_5_1862"><ellipse class="e" cx="245" cy="1092" rx="16.5" ry="9"/><text x="245" y="1089.5"><tspan class="b">transpose_5_1862</tspan><tspan x="245" dy="3.5">(4, 1, 8), 128 B</tspan><tspan x="245" dy="3.5">dim0=0, dim1=1</tspan></text></g>
<g id="view_9_59"><ellipse class="e" cx="147.7" cy="1113.7" rx="18" ry="6"/><text x="147.7" y="1112.95"><tspan class="b">view_9_59</tspan><tspan x="147.7" dy="3.5">(1024, 4, 8), 128 KB</tspan></text></g>
<g id="view_10_59"><ellipse class="e" cx="194.3" cy="1113.7" rx="18" ry="6"/><text x="194.3" y="1112.95"><tspan class="b">view_10_59</tspan><tspan x="194.3" dy="3.5">(1024, 4, 8), 128 KB</tspan></text></g>
<g id="view_3_1861"><ellipse class="e" cx="245" cy="1113.7" rx="16.5" ry="6"/><text x="245" y="1112.95"><tspan class="b">view_3_1861</tspan><tspan x="245" dy="3.5">(1, 4, 8), 128 B</tspan></text></g>
<g id="getitem_2_67"><ellipse class="e" cx="147.7" cy="1133.7" rx="20" ry="6"/><text x="147.7" y="1132.95"><tspan class="b">getitem_2_67</tspan><tspan x="147.7" dy="3.5">(1024, 1, 32), 128 KB</tspan></text></g>
<g id="getitem_1_61"><ellipse class="e" cx="189.3" cy="1133.7" rx="19" ry="6"/><text x="189.3" y="1132.95"><tspan class="b">getitem_1_61</tspan><tspan x="189.3" dy="3.5">(1024, 1, 32), 128 KB</tspan></text></g>
<g id="linear_1_1861"><ellipse class="e" cx="249.3" cy="1133.7" rx="16" ry="6"/><text x="249.3" y="1132.95"><tspan class="b">linear_1_1861</tspan><tspan x="249.3" dy="3.5">(1, 1, 32), 128 B</tspan></text></g>
<g id="contiguous_1_58"><ellipse class="e" cx="145" cy="1157.3" rx="21" ry="6"/><text x="145" y="1156.55"><tspan class="b">contiguous_1_58</tspan><tspan x="145" dy="3.5">(2, 1024, 1, 32), 256 KB</tspan></text></g>
<g id="splitwithsizes_1_1762"><ellipse class="g" cx="198.3" cy="1157.3" rx="22.5" ry="7.5"/><text x="198.3" y="1154.8"><tspan class="b">splitwithsizes_1_1762</tspan><tspan x="198.3" dy="3.5">(32,), 128 B</tspan><tspan x="198.3" dy="3.5">params: in_proj_bias (96)</tspan></text></g>
<g id="splitwithsizes_1_1763"><ellipse class="g" cx="249.3" cy="1157.3" rx="27.5" ry="7.5"/><text x="249.3" y="1154.8"><tspan class="b">splitwithsizes_1_1763</tspan><tspan x="249.3" dy="3.5">(32, 32), 4 KB</tspan><tspan x="249.3" dy="3.5">params: in_proj_weight (96, 32)</tspan></text></g>
<g id="squeeze_1_38"><ellipse class="e" cx="161.7" cy="1181.3" rx="21" ry="6"/><text x="161.7" y="1180.55"><tspan class="b">squeeze_1_38</tspan><tspan x="161.7" dy="3.5">(2, 1024, 1, 32), 256 KB</tspan></text></g>
<g id="transpose_15_54"><ellipse class="e" cx="176.7" cy="1209.7" rx="20" ry="9"/><text x="176.7" y="1207.2"><tspan class="b">transpose_15_54</tspan><tspan x="176.7" dy="3.5">(2, 1024, 1, 1, 32), 256 KB</tspan><tspan x="176.7" dy="3.5">dim0=0, dim1=-2</tspan></text></g>
<g id="unsqueeze_2_53"><ellipse class="e" cx="189.3" cy="1233" rx="22.5" ry="6"/><text x="189.3" y="1232.25"><tspan class="b">unsqueeze_2_53</tspan><tspan x="189.3" dy="3.5">(1, 1024, 1, 2, 32), 256 KB</tspan></text></g>
<g id="unflatten_2_51"><ellipse class="e" cx="196.7" cy="1257.7" rx="21.5" ry="6"/><text x="196.7" y="1256.95"><tspan class="b">unflatten_2_51</tspan><tspan x="196.7" dy="3.5">(1024, 1, 2, 32), 256 KB</tspan></text></g>
<g id="linear_7_50"><ellipse class="e" cx="199.3" cy="1285.3" rx="19" ry="6"/><text x="199.3" y="1284.55"><tspan class="b">linear_7_50</tspan><tspan x="199.3" dy="3.5">(1024, 1, 64), 256 KB</tspan></text></g>
<g id="splitwithsizes_2_1763"><ellipse class="g" cx="149.3" cy="1311" rx="22.5" ry="7.5"/><text x="149.3" y="1308.5"><tspan class="b">splitwithsizes_2_1763</tspan><tspan x="149.3" dy="3.5">(64,), 256 B</tspan><tspan x="149.3" dy="3.5">params: in_proj_bias (96)</tspan></text></g>
<g id="splitwithsizes_2_1764"><ellipse class="g" cx="202.7" cy="1311" rx="27.5" ry="7.5"/><text x="202.7" y="1308.5"><tspan class="b">splitwithsizes_2_1764</tspan><tspan x="202.7" dy="3.5">(64, 32), 8 KB</tspan><tspan x="202.7" dy="3.5">params: in_proj_weight (96, 32)</tspan></text></g>
<g id="transpose_33_71"><ellipse class="e" cx="253.3" cy="1311" rx="19" ry="9"/><text x="253.3" y="1308.5"><tspan class="b">transpose_33_71</tspan><tspan x="253.3" dy="3.5">(1024, 1, 32), 128 KB</tspan><tspan x="253.3" dy="3.5">dim0=1, dim1=0</tspan></text></g>

<g id="reshape_1_78"><ellipse class="e" cx="324" cy="999.3" rx="17.5" ry="6"/><text x="324" y="998.55"><tspan class="b">reshape_1_78</tspan><tspan x="324" dy="3.5">(1, 1, 1024), 4 KB</tspan></text></g>
<g id="transpose_1_79"><ellipse class="e" cx="311.7" cy="1021" rx="16" ry="6"/><text x="311.7" y="1020.25"><tspan class="b">transpose_1_79</tspan><tspan x="311.7" dy="3.5">(1, 1, 1), 4 B</tspan></text></g>
<g id="max_1_86"><ellipse class="e" cx="310" cy="1046" rx="22" ry="9"/><text x="310" y="1043.5"><tspan class="b">max_1_86</tspan><tspan x="310" dy="3.5">(1, 1, 1), 4 B</tspan><tspan x="310" dy="3.5">dim=-1, keepdim=True</tspan></text></g>
<g id="flatten_1_80"><ellipse class="e" cx="314" cy="1066.7" rx="17.5" ry="6"/><text x="314" y="1065.95"><tspan class="b">flatten_1_80</tspan><tspan x="314" dy="3.5">(1, 1, 1024), 4 KB</tspan></text></g>
<g id="adaptiveavgpool2d_1_77"><ellipse class="e" cx="314" cy="1091.3" rx="24" ry="9"/><text x="314" y="1088.8"><tspan class="b">adaptiveavgpool2d_1_77</tspan><tspan x="314" dy="3.5">(1, 32, 32, 32), 64 KB</tspan><tspan x="314" dy="3.5">output_size=(32, 32)</tspan></text></g>
<g id="sigmoid_1_1813"><ellipse class="e" cx="310" cy="1113.7" rx="16.5" ry="6"/><text x="310" y="1112.95"><tspan class="b">sigmoid_1_1813</tspan><tspan x="310" dy="3.5">(1, 32, 32, 32), 64 KB</tspan></text></g>
<g id="mul_1_161"><ellipse class="e" cx="310" cy="1133.7" rx="16.5" ry="6"/><text x="310" y="1132.95"><tspan class="b">mul_1_161</tspan><tspan x="310" dy="3.5">(1, 32, 32, 32), 64 KB</tspan></text></g>
<g id="linear_1_1814"><rect class="g" x="284.3" y="1147.3" width="41.7" height="20"/><text x="305.2" y="1151.3"><tspan class="b">linear_1_1814</tspan><tspan x="305.2" dy="3.5">(1, 32, 1024), 128 KB</tspan><tspan x="305.2" dy="3.5">in_features=32, out_features=32</tspan><tspan x="305.2" dy="3.5">params: weight (32, 32), bias (32)</tspan><tspan x="305.2" dy="3.5">decoder.conv.0</tspan></text></g>
<g id="transpose_1_1762"><ellipse class="e" cx="347.3" cy="1157.3" rx="14" ry="9"/><text x="347.3" y="1154.8"><tspan class="b">transpose_1_1762</tspan><tspan x="347.3" dy="3.5">(1024, 1, 32), 128 KB</tspan><tspan x="347.3" dy="3.5">dim0=1, dim1=0</tspan></text></g>
<g id="add_1_1833"><ellipse class="e" cx="345" cy="1181.3" rx="16" ry="6"/><text x="345" y="1180.55"><tspan class="b">add_1_1833</tspan><tspan x="345" dy="3.5">(1, 1024, 32), 128 KB</tspan></text></g>
<g id="linear_2_1824"><rect class="g" x="325" y="1199.7" width="43.3" height="21"/><text x="346.7" y="1204.2"><tspan class="b">linear_2_1824</tspan><tspan x="346.7" dy="3.5">(1, 1024, 32), 128 KB</tspan><tspan x="346.7" dy="3.5">in_features=64, out_features=32</tspan><tspan x="346.7" dy="3.5">params: weight (32, 64), bias (32)</tspan><tspan x="346.7" dy="3.5">ffn.1.2</tspan></text></g>
<g id="gelu_1_1811"><rect class="e" x="334.3" y="1227.3" width="25.7" height="13.4"/><text x="347.2" y="1231.5"><tspan class="b">gelu_1_1811</tspan><tspan x="347.2" dy="3.5">(1, 1024, 64), 256 KB</tspan><tspan x="347.2" dy="3.5">ffn.1.1</tspan></text></g>
<g id="linear_1_1804"><rect class="g" x="325" y="1247" width="43.3" height="20.7"/><text x="346.7" y="1251.35"><tspan class="b">linear_1_1804</tspan><tspan x="346.7" dy="3.5">(1, 1024, 64), 256 KB</tspan><tspan x="346.7" dy="3.5">in_features=32, out_features=64</tspan><tspan x="346.7" dy="3.5">params: weight (64, 32), bias (64)</tspan><tspan x="346.7" dy="3.5">ffn.1.0</tspan></text></g>
<g id="layernorm_1_1801"><rect class="g" x="325" y="1274.3" width="43.3" height="20.7"/><text x="346.7" y="1278.65"><tspan class="b">layernorm_1_1801</tspan><tspan x="346.7" dy="3.5">(1, 1024, 32), 128 KB</tspan><tspan x="346.7" dy="3.5">normalized_shape=(32,), eps=1e-05</tspan><tspan x="346.7" dy="3.5">params: weight (32), bias (32)</tspan><tspan x="346.7" dy="3.5">ffn.1.norm</tspan></text></g>
<g id="add_1_1811"><ellipse class="e" cx="321" cy="1311" rx="17.5" ry="6"/><text x="321" y="1310.25"><tspan class="b">add_1_1811</tspan><tspan x="321" dy="3.5">(1, 1024, 32), 128 KB</tspan></text></g>
<g id="multiheadattention_1_1773"><rect class="g" x="278.3" y="1327" width="91.7" height="16.7"/><text x="324.2" y="1331.1"><tspan class="b">multiheadattention_1_1773</tspan><tspan x="324.2" dy="3.5">(1, 1024, 32), 128 KB</tspan><tspan x="324.2" dy="3.5">params: in_proj_weight (96, 32), in_proj_bias (96), weight (32, 32), bias (32)</tspan><tspan x="324.2" dy="3.5">attn.1</tspan></text></g>
<g id="add_3_1811"><ellipse class="e" cx="306" cy="1357" rx="17.5" ry="6"/><text x="306" y="1356.25"><tspan class="b">add_3_1811</tspan><tspan x="306" dy="3.5">(1, 1024, 32), 128 KB</tspan></text></g>

<g id="transpose_6_1811"><ellipse class="e" cx="302.7" cy="1385.3" rx="17.5" ry="9"/><text x="302.7" y="1382.8"><tspan class="b">transpose_6_1811</tspan><tspan x="302.7" dy="3.5">(1, 1024, 32), 128 KB</tspan><tspan x="302.7" dy="3.5">dim0=1, dim1=0</tspan></text></g>
<g id="view_6_1813"><ellipse class="e" cx="285" cy="1407.7" rx="17.5" ry="6"/><text x="285" y="1406.95"><tspan class="b">view_6_1813</tspan><tspan x="285" dy="3.5">(1024, 1, 32), 128 KB</tspan></text></g>
<g id="linear_3_1811"><ellipse class="g" cx="276.7" cy="1432.3" rx="30" ry="11"/><text x="276.7" y="1428.05"><tspan class="b">linear_3_1811</tspan><tspan x="276.7" dy="3.5">(1024, 32), 128 KB</tspan><tspan x="276.7" dy="3.5">in_features=32, out_features=32</tspan><tspan x="276.7" dy="3.5">params: weight (32, 32), bias (32)</tspan></text></g>
<g id="view_7_1814"><ellipse class="e" cx="227.7" cy="1457.3" rx="14" ry="6"/><text x="227.7" y="1456.55"><tspan class="b">view_7_1814</tspan><tspan x="227.7" dy="3.5">(1024, 32), 128 KB</tspan></text></g>
<g id="contiguous_2_1814"><ellipse class="e" cx="224.3" cy="1477.3" rx="18" ry="6"/><text x="224.3" y="1476.55"><tspan class="b">contiguous_2_1814</tspan><tspan x="224.3" dy="3.5">(1024, 1, 4, 8), 128 KB</tspan></text></g>
<g id="permute_1_1813"><ellipse class="e" cx="201" cy="1500" rx="18.5" ry="9"/><text x="201" y="1497.5"><tspan class="b">permute_1_1813</tspan><tspan x="201" dy="3.5">(1024, 1, 4, 8), 128 KB</tspan><tspan x="201" dy="3.5">dims=(2, 0, 1, 3)</tspan></text></g>
<g id="sdpa_1_1808"><ellipse class="e" cx="199" cy="1522.3" rx="28.5" ry="6"/><text x="199" y="1521.55"><tspan class="b">scaleddotproductattention_1_1808</tspan><tspan x="199" dy="3.5">(1, 4, 1024, 8), 128 KB</tspan></text></g>
<g id="view_2_87"><ellipse class="e" cx="156" cy="1542.3" rx="15.5" ry="6"/><text x="156" y="1541.55"><tspan class="b">view_2_87</tspan><tspan x="156" dy="3.5">(1, 4, 1024, 8), 128 KB</tspan></text></g>
<g id="view_3_88"><ellipse class="e" cx="198.3" cy="1542.3" rx="15.5" ry="6"/><text x="198.3" y="1541.55"><tspan class="b">view_3_88</tspan><tspan x="198.3" dy="3.5">(1, 4, 1024, 8), 128 KB</tspan></text></g>
<g id="view_6_1813b"><ellipse class="e" cx="239.3" cy="1542.3" rx="19" ry="6"/><text x="239.3" y="1541.55"><tspan class="b">view_6_1813</tspan><tspan x="239.3" dy="3.5">(1, 4, 1, 8), 128 B</tspan></text></g>
<g id="transpose_5_68"><ellipse class="e" cx="156.7" cy="1565" rx="16.5" ry="9"/><text x="156.7" y="1562.5"><tspan class="b">transpose_5_68</tspan><tspan x="156.7" dy="3.5">(4, 1024, 8), 128 KB</tspan><tspan x="156.7" dy="3.5">dim0=0, dim1=1</tspan></text></g>
<g id="transpose_7_68"><ellipse class="e" cx="196.7" cy="1565" rx="16.5" ry="9"/><text x="196.7" y="1562.5"><tspan class="b">transpose_7_68</tspan><tspan x="196.7" dy="3.5">(4, 1024, 8), 128 KB</tspan><tspan x="196.7" dy="3.5">dim0=0, dim1=1</tspan></text></g>
<g id="transpose_9_1817"><ellipse class="e" cx="239.3" cy="1565" rx="16.5" ry="9"/><text x="239.3" y="1562.5"><tspan class="b">transpose_9_1817</tspan><tspan x="239.3" dy="3.5">(4, 1, 8), 128 B</tspan><tspan x="239.3" dy="3.5">dim0=0, dim1=1</tspan></text></g>
<g id="view_2_42"><ellipse class="e" cx="156.7" cy="1587.3" rx="16.5" ry="6"/><text x="156.7" y="1586.55"><tspan class="b">view_2_42</tspan><tspan x="156.7" dy="3.5">(1024, 4, 8), 128 KB</tspan></text></g>
<g id="view_3_46"><ellipse class="e" cx="196.7" cy="1587.3" rx="16.5" ry="6"/><text x="196.7" y="1586.55"><tspan class="b">view_3_46</tspan><tspan x="196.7" dy="3.5">(1024, 4, 8), 128 KB</tspan></text></g>
<g id="view_1_1812"><ellipse class="e" cx="239.3" cy="1587.3" rx="16.5" ry="6"/><text x="239.3" y="1586.55"><tspan class="b">view_1_1812</tspan><tspan x="239.3" dy="3.5">(1, 4, 8), 128 B</tspan></text></g>
<g id="getitem_1_36"><ellipse class="e" cx="156" cy="1607.7" rx="17.5" ry="6"/><text x="156" y="1606.95"><tspan class="b">getitem_1_36</tspan><tspan x="156" dy="3.5">(1024, 1, 32), 128 KB</tspan></text></g>
<g id="getitem_2_40"><ellipse class="e" cx="190" cy="1607.7" rx="17.5" ry="6"/><text x="190" y="1606.95"><tspan class="b">getitem_2_40</tspan><tspan x="190" dy="3.5">(1024, 1, 32), 128 KB</tspan></text></g>
<g id="linear_1_1813"><ellipse class="e" cx="241" cy="1607.7" rx="16" ry="6"/><text x="241" y="1606.95"><tspan class="b">linear_1_1813</tspan><tspan x="241" dy="3.5">(1, 1, 32), 128 B</tspan></text></g>
<g id="contiguous_1_27"><ellipse class="e" cx="156.7" cy="1628.7" rx="17.5" ry="6"/><text x="156.7" y="1627.95"><tspan class="b">contiguous_1_27</tspan><tspan x="156.7" dy="3.5">(2, 1024, 1, 32), 256 KB</tspan></text></g>
<g id="transpose_2_1817"><ellipse class="e" cx="198.3" cy="1629.3" rx="16" ry="9"/><text x="198.3" y="1626.8"><tspan class="b">transpose_2_1817</tspan><tspan x="198.3" dy="3.5">(1, 1, 32), 128 B</tspan><tspan x="198.3" dy="3.5">dim0=1, dim1=0</tspan></text></g>
<g id="splitwithsizes_1_1873"><ellipse class="g" cx="241.7" cy="1629.3" rx="23.5" ry="7.5"/><text x="241.7" y="1626.8"><tspan class="b">splitwithsizes_1_1873</tspan><tspan x="241.7" dy="3.5">(32,), 128 B</tspan><tspan x="241.7" dy="3.5">params: in_proj_bias (96)</tspan></text></g>
<g id="splitwithsizes_1_1874b"><ellipse class="g" cx="295" cy="1629.3" rx="27.5" ry="7.5"/><text x="295" y="1626.8"><tspan class="b">splitwithsizes_1_1874</tspan><tspan x="295" dy="3.5">(32, 32), 4 KB</tspan><tspan x="295" dy="3.5">params: in_proj_weight (96, 32)</tspan></text></g>
<g id="squeeze_1_36"><ellipse class="e" cx="156.7" cy="1652" rx="15.5" ry="6"/><text x="156.7" y="1651.25"><tspan class="b">squeeze_1_36</tspan><tspan x="156.7" dy="3.5">(2, 1024, 1, 32), 256 KB</tspan></text></g>
<g id="transpose_1_38"><ellipse class="e" cx="157.7" cy="1674.3" rx="18.5" ry="9"/><text x="157.7" y="1671.8"><tspan class="b">transpose_1_38</tspan><tspan x="157.7" dy="3.5">(2, 1024, 1, 1, 32), 256 KB</tspan><tspan x="157.7" dy="3.5">dim0=0, dim1=-2</tspan></text></g>
<g id="unsqueeze_2_34"><ellipse class="e" cx="158.3" cy="1697.7" rx="18.5" ry="6"/><text x="158.3" y="1696.95"><tspan class="b">unsqueeze_2_34</tspan><tspan x="158.3" dy="3.5">(1, 1024, 1, 2, 32), 256 KB</tspan></text></g>
<g id="unflatten_1_30"><ellipse class="e" cx="157.3" cy="1717" rx="16.5" ry="6"/><text x="157.3" y="1716.25"><tspan class="b">unflatten_1_30</tspan><tspan x="157.3" dy="3.5">(1024, 1, 2, 32), 256 KB</tspan></text></g>
<g id="linear_1_30"><ellipse class="e" cx="180" cy="1736.3" rx="16.5" ry="6"/><text x="180" y="1735.55"><tspan class="b">linear_1_30</tspan><tspan x="180" dy="3.5">(1024, 1, 64), 256 KB</tspan></text></g>
<g id="splitwithsizes_2_1873"><ellipse class="g" cx="157.7" cy="1758.7" rx="22.5" ry="7.5"/><text x="157.7" y="1756.2"><tspan class="b">splitwithsizes_2_1873</tspan><tspan x="157.7" dy="3.5">(64,), 256 B</tspan><tspan x="157.7" dy="3.5">params: in_proj_bias (96)</tspan></text></g>
<g id="splitwithsizes_2_1874"><ellipse class="g" cx="211.7" cy="1758.7" rx="27.5" ry="7.5"/><text x="211.7" y="1756.2"><tspan class="b">splitwithsizes_2_1874</tspan><tspan x="211.7" dy="3.5">(64, 32), 8 KB</tspan><tspan x="211.7" dy="3.5">params: in_proj_weight (96, 32)</tspan></text></g>
<g id="transpose_3_36"><ellipse class="e" cx="261" cy="1758.7" rx="18" ry="9"/><text x="261" y="1756.2"><tspan class="b">transpose_3_36</tspan><tspan x="261" dy="3.5">(1024, 1, 32), 128 KB</tspan><tspan x="261" dy="3.5">dim0=1, dim1=0</tspan></text></g>
<g id="expand_1_35"><ellipse class="e" cx="348.3" cy="1652" rx="17.5" ry="6"/><text x="348.3" y="1651.25"><tspan class="b">expand_1_35</tspan><tspan x="348.3" dy="3.5">(1, 32, 1024), 128 KB</tspan></text></g>
<g id="parameter_1_35"><ellipse class="g" cx="351.7" cy="1674.3" rx="21" ry="9"/><text x="351.7" y="1671.8"><tspan class="b">parameter_1_35</tspan><tspan x="351.7" dy="3.5">(1, 32, 32), 4 KB</tspan><tspan x="351.7" dy="3.5">params: weight (1, 32)</tspan></text></g>

<g id="transpose_1_28"><ellipse class="e" cx="140" cy="1784" rx="15.5" ry="9"/><text x="140" y="1781.5"><tspan class="b">transpose_1_28</tspan><tspan x="140" dy="3.5">(1, 16, 32), 8 KB</tspan><tspan x="140" dy="3.5">dim0=1, dim1=2</tspan></text></g>
<g id="flatten_1_23"><ellipse class="e" cx="139.3" cy="1810" rx="15.5" ry="6"/><text x="139.3" y="1809.25"><tspan class="b">flatten_1_23</tspan><tspan x="139.3" dy="3.5">(1, 32, 64), 8 KB</tspan></text></g>
<g id="transpose_9_71"><ellipse class="e" cx="209.3" cy="1809.3" rx="18" ry="9"/><text x="209.3" y="1806.8"><tspan class="b">transpose_9_71</tspan><tspan x="209.3" dy="3.5">(1, 256, 32), 32 KB</tspan><tspan x="209.3" dy="3.5">dim0=1, dim1=2</tspan></text></g>
<g id="interpolate_1_12"><ellipse class="e" cx="25" cy="1809.3" rx="24" ry="9"/><text x="25" y="1806.8"><tspan class="b">interpolate_1_12</tspan><tspan x="25" dy="3.5">(1, 32, 16, 16), 32 KB</tspan><tspan x="25" dy="3.5">size=(32, 32), mode=nearest</tspan></text></g>
<g id="interpolate_1_10"><ellipse class="e" cx="76" cy="1809.3" rx="24" ry="9"/><text x="76" y="1806.8"><tspan class="b">interpolate_1_10</tspan><tspan x="76" dy="3.5">(1, 32, 32, 32), 128 KB</tspan><tspan x="76" dy="3.5">size=(32, 32), mode=nearest</tspan></text></g>
<g id="flatten_1_72"><ellipse class="e" cx="242.7" cy="1841.7" rx="15" ry="6"/><text x="242.7" y="1840.95"><tspan class="b">flatten_1_72</tspan><tspan x="242.7" dy="3.5">(1, 32, 256), 32 KB</tspan></text></g>
<g id="interpolate_2_22"><ellipse class="e" cx="299.3" cy="1841" rx="22" ry="9"/><text x="299.3" y="1838.5"><tspan class="b">interpolate_2_22</tspan><tspan x="299.3" dy="3.5">(1, 32, 32, 32), 128 KB</tspan><tspan x="299.3" dy="3.5">size=(32, 32), mode=nearest</tspan></text></g>
<g id="interpolate_2_17"><ellipse class="e" cx="355" cy="1841" rx="22" ry="9"/><text x="355" y="1838.5"><tspan class="b">interpolate_2_17</tspan><tspan x="355" dy="3.5">(1, 32, 32, 32), 128 KB</tspan><tspan x="355" dy="3.5">size=(32, 32), mode=nearest</tspan></text></g>
<g id="transpose_14_102"><ellipse class="e" cx="378.3" cy="1870" rx="21.5" ry="9"/><text x="378.3" y="1867.5"><tspan class="b">transpose_14_102</tspan><tspan x="378.3" dy="3.5">(1, 1024, 32), 128 KB</tspan><tspan x="378.3" dy="3.5">dim0=1, dim1=2</tspan></text></g>
<g id="flatten_2_101"><ellipse class="e" cx="370" cy="1897.3" rx="21.5" ry="6"/><text x="370" y="1896.55"><tspan class="b">flatten_2_101</tspan><tspan x="370" dy="3.5">(1, 32, 1024), 128 KB</tspan></text></g>
<g id="add_2_13"><ellipse class="e" cx="199" cy="1870.7" rx="17.5" ry="6"/><text x="199" y="1869.95"><tspan class="b">add_2_13</tspan><tspan x="199" dy="3.5">(1, 32, 16, 16), 32 KB</tspan></text></g>
<g id="cat_1_95"><ellipse class="e" cx="199" cy="1897.3" rx="20" ry="9"/><text x="199" y="1894.8"><tspan class="b">cat_1_95</tspan><tspan x="199" dy="3.5">(1, 96, 32, 32), 384 KB</tspan><tspan x="199" dy="3.5">dim=1</tspan></text></g>
<g id="add_2_11"><ellipse class="e" cx="198.3" cy="1926.7" rx="20" ry="6"/><text x="198.3" y="1925.95"><tspan class="b">add_2_11</tspan><tspan x="198.3" dy="3.5">(1, 32, 32, 32), 128 KB</tspan></text></g>
<g id="conv2d_5_10"><rect class="g" x="41" y="1831.7" width="62.3" height="19.3"/><text x="72.2" y="1835.35"><tspan class="b">conv2d_5_10</tspan><tspan x="72.2" dy="3.5">(1, 32, 8, 8), 8 KB</tspan><tspan x="72.2" dy="3.5">in_channels=64, out_channels=32, kernel_size=(1, 1)</tspan><tspan x="72.2" dy="3.5">params: weight (32, 64, 1, 1), bias (32)</tspan><tspan x="72.2" dy="3.5">block.3.conv</tspan></text></g>
<g id="gelu_1_9"><rect class="e" x="50" y="1864" width="26.7" height="12.7"/><text x="63.3" y="1867.85"><tspan class="b">gelu_1_9</tspan><tspan x="63.3" dy="3.5">(1, 64, 8, 8), 16 KB</tspan><tspan x="63.3" dy="3.5">block.2.act.1</tspan></text></g>
<g id="conv2d_6_20"><rect class="g" x="91" y="1860" width="79.7" height="20"/><text x="130.8" y="1864"><tspan class="b">conv2d_6_20</tspan><tspan x="130.8" dy="3.5">(1, 32, 32, 32), 128 KB</tspan><tspan x="130.8" dy="3.5">in_channels=96, out_channels=32, kernel_size=(1, 1), padding=(0, 0)</tspan><tspan x="130.8" dy="3.5">params: weight (32, 96, 1, 1), bias (32)</tspan><tspan x="130.8" dy="3.5">fuse.conv</tspan></text></g>
<g id="conv2d_4_8"><rect class="g" x="12.3" y="1887.3" width="93.7" height="21"/><text x="59.2" y="1891.8"><tspan class="b">conv2d_4_8</tspan><tspan x="59.2" dy="3.5">(1, 64, 8, 8), 16 KB</tspan><tspan x="59.2" dy="3.5">in_channels=64, out_channels=64, kernel_size=(3, 3), stride=(2, 2), padding=(1, 1)</tspan><tspan x="59.2" dy="3.5">params: weight (64, 64, 3, 3), bias (64)</tspan><tspan x="59.2" dy="3.5">block.2.conv</tspan></text></g>
<g id="conv2d_5_11"><rect class="g" x="111" y="1887.3" width="61.7" height="21"/><text x="141.8" y="1891.8"><tspan class="b">conv2d_5_11</tspan><tspan x="141.8" dy="3.5">(1, 32, 16, 16), 32 KB</tspan><tspan x="141.8" dy="3.5">in_channels=64, out_channels=32, kernel_size=(1, 1)</tspan><tspan x="141.8" dy="3.5">params: weight (32, 64, 1, 1), bias (32)</tspan><tspan x="141.8" dy="3.5">lateral.conv.1</tspan></text></g>
<g id="gelu_1_7"><rect class="e" x="92.7" y="1919.3" width="30.6" height="14"/><text x="108" y="1923.8"><tspan class="b">gelu_1_7</tspan><tspan x="108" dy="3.5">(1, 64, 16, 16), 64 KB</tspan><tspan x="108" dy="3.5">block.1.act.1</tspan></text></g>
<g id="conv2d_3_6"><rect class="g" x="60.7" y="1940.7" width="94.3" height="20"/><text x="107.8" y="1944.7"><tspan class="b">conv2d_3_6</tspan><tspan x="107.8" dy="3.5">(1, 64, 16, 16), 64 KB</tspan><tspan x="107.8" dy="3.5">in_channels=32, out_channels=64, kernel_size=(3, 3), stride=(2, 2), padding=(1, 1)</tspan><tspan x="107.8" dy="3.5">params: weight (64, 32, 3, 3), bias (64)</tspan><tspan x="107.8" dy="3.5">block.1.conv</tspan></text></g>
<g id="conv2d_1_14"><rect class="g" x="158.3" y="1940.7" width="62.4" height="20"/><text x="189.5" y="1944.7"><tspan class="b">conv2d_1_14</tspan><tspan x="189.5" dy="3.5">(1, 32, 32, 32), 128 KB</tspan><tspan x="189.5" dy="3.5">in_channels=32, out_channels=32, kernel_size=(1, 1)</tspan><tspan x="189.5" dy="3.5">params: weight (32, 32, 1, 1), bias (32)</tspan><tspan x="189.5" dy="3.5">lateral.conv.0</tspan></text></g>
<g id="gelu_1_2"><rect class="e" x="122.7" y="1973" width="31.6" height="13.3"/><text x="138.5" y="1977.15"><tspan class="b">gelu_1_2</tspan><tspan x="138.5" dy="3.5">(1, 32, 32, 32), 128 KB</tspan><tspan x="138.5" dy="3.5">block.0.conv.1</tspan></text></g>
<g id="conv2d_2_4"><rect class="g" x="99.3" y="1993" width="79" height="20"/><text x="138.8" y="1997"><tspan class="b">conv2d_2_4</tspan><tspan x="138.8" dy="3.5">(1, 32, 32, 32), 128 KB</tspan><tspan x="138.8" dy="3.5">in_channels=16, out_channels=32, kernel_size=(3, 3), padding=(1, 1)</tspan><tspan x="138.8" dy="3.5">params: weight (32, 16, 3, 3), bias (32)</tspan><tspan x="138.8" dy="3.5">block.0.conv.0</tspan></text></g>
<g id="gelu_1_1"><rect class="e" x="122.7" y="2029.7" width="31.6" height="12.6"/><text x="138.5" y="2033.5"><tspan class="b">gelu_1_1</tspan><tspan x="138.5" dy="3.5">(1, 16, 32, 32), 64 KB</tspan><tspan x="138.5" dy="3.5">stem.conv.2</tspan></text></g>
<g id="batchnorm2d_1_1"><rect class="g" x="118.3" y="2049.7" width="40" height="21.6"/><text x="138.3" y="2054.5"><tspan class="b">batchnorm2d_1_1</tspan><tspan x="138.3" dy="3.5">(1, 16, 32, 32), 64 KB</tspan><tspan x="138.3" dy="3.5">eps=1e-05, momentum=0.1</tspan><tspan x="138.3" dy="3.5">params: weight (16), bias (16)</tspan><tspan x="138.3" dy="3.5">stem.conv.1</tspan></text></g>
<g id="conv2d_1_1"><rect class="g" x="92.3" y="2078" width="93.4" height="20.7"/><text x="139" y="2082.35"><tspan class="b">conv2d_1_1</tspan><tspan x="139" dy="3.5">(1, 16, 32, 32), 64 KB</tspan><tspan x="139" dy="3.5">in_channels=3, out_channels=16, kernel_size=(3, 3), stride=(2, 2), padding=(1, 1)</tspan><tspan x="139" dy="3.5">params: weight (16, 3, 3, 3), bias (16)</tspan><tspan x="139" dy="3.5">stem.conv.0</tspan></text></g>
<g id="input_1"><ellipse class="gr" cx="138.3" cy="2117.3" rx="20" ry="9"/><text x="138.3" y="2114.8"><tspan class="b">input_1</tspan><tspan x="138.3" dy="3.5">(1, 3, 64, 64), 48 KB</tspan><tspan x="138.3" dy="3.5">input-tensor</tspan></text></g>
</svg>
